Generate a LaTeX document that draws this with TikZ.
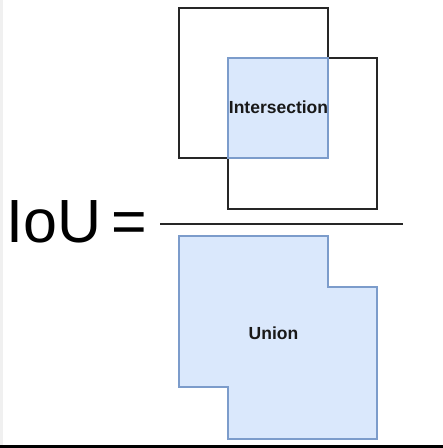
\documentclass[tikz,border=0pt]{standalone}
\usepackage{fontspec}
\setmainfont{Liberation Sans}
\definecolor{boxfill}{HTML}{DAE8FC}
\definecolor{boxline}{HTML}{7C9CCB}
\definecolor{frameline}{HTML}{262626}
\begin{document}
\begin{tikzpicture}[x=1pt,y=-1pt,
  plainedge/.style={draw=frameline,line width=1.5pt,line join=miter},
  bluefill/.style={fill=boxfill},
  blueedge/.style={draw=boxline,line width=1.3pt},
  lbl/.style={font=\bfseries\fontsize{17.5}{19}\selectfont,text=black!90,inner sep=0pt}]
\useasboundingbox (0,0) rectangle (443,448);
\fill[white] (0,0) rectangle (443,448);
\fill[black!6] (0,0) rectangle (3,445);
\draw[plainedge] (328,58) -- (328,8) -- (179,8) -- (179,158) -- (228,158);
\draw[plainedge] (328,58) -- (377,58) -- (377,209) -- (228,209) -- (228,158);
\fill[bluefill] (228,58) rectangle (328,158);
\draw[blueedge] (228,58) rectangle (328,158);
\node[lbl] (inter) at (278.5,107) {Intersection};
\coordinate (fl) at (160,224);
\coordinate (fr) at (403,224);
\draw[frameline,line width=1.6pt] (fl) -- (fr);
\node[anchor=base west,inner sep=0pt,font=\fontsize{61}{61}\selectfont] (iou) at (6,242) {IoU};
\node[anchor=base west,inner sep=0pt,font=\fontsize{61}{61}\selectfont] (eq) at (111,242) {=};
\fill[bluefill] (179,236) -- (328,236) -- (328,287) -- (377,287) -- (377,439) -- (228,439) -- (228,387) -- (179,387) -- cycle;
\draw[blueedge] (179,236) -- (328,236) -- (328,287) -- (377,287) -- (377,439) -- (228,439) -- (228,387) -- (179,387) -- cycle;
\node[lbl] (union) at (273.5,333) {Union};
\fill[black] (0,445) rectangle (443,448);
\end{tikzpicture}
\end{document}
